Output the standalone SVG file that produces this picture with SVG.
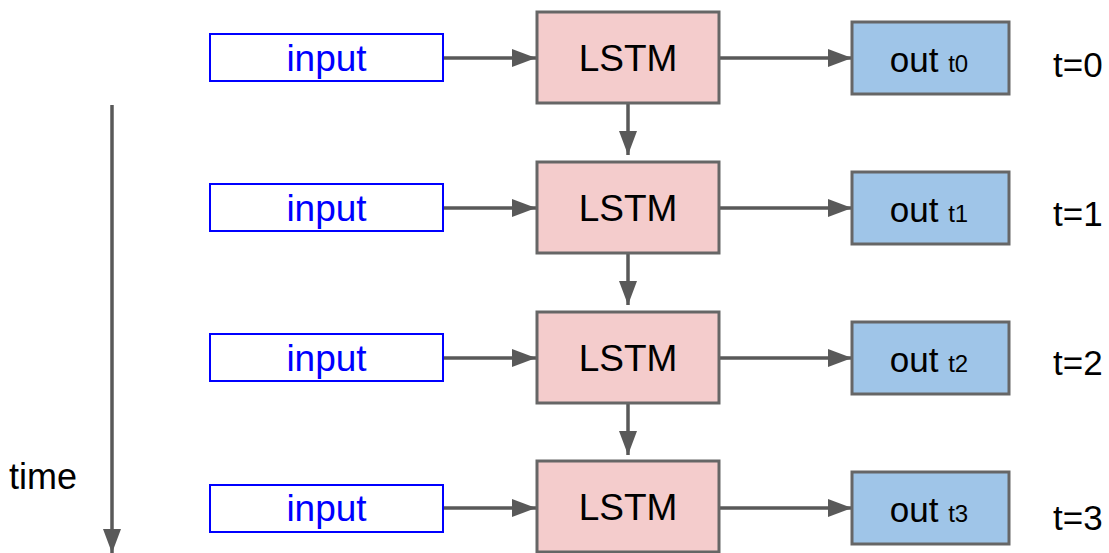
<svg xmlns="http://www.w3.org/2000/svg" width="1109" height="553" viewBox="0 0 1109 553">
<style>
.inp{fill:#fff;stroke:#0000ff;stroke-width:2}
.lstm{fill:#f4cccc;stroke:#666;stroke-width:3}
.out{fill:#9fc5e8;stroke:#666;stroke-width:3}
.t{font-family:"Liberation Sans",Arial,sans-serif;font-size:37px;text-anchor:middle}
.o{font-family:"Liberation Sans",Arial,sans-serif;font-size:35px;text-anchor:middle;fill:#000}
.blue{fill:#0000ff}
.blk{fill:#000}
.sub{font-size:24px}
.lbl{font-family:"Liberation Sans",Arial,sans-serif;font-size:35px;fill:#000}
.c{stroke:#595959;stroke-width:3.5;fill:none;marker-end:url(#ah)}
</style>
<defs>
<marker id="ah" viewBox="0 0 24 18" refX="24" refY="9" markerWidth="24" markerHeight="18" markerUnits="userSpaceOnUse" orient="auto">
<path d="M0,0 L24,9 L0,18 Z" fill="#595959"/>
</marker>
</defs>
<g id="connectors">
<path class="c" d="M443,58 H536"/>
<path class="c" d="M443,208 H536"/>
<path class="c" d="M443,358 H536"/>
<path class="c" d="M443,508 H536"/>
<path class="c" d="M719,58 H852"/>
<path class="c" d="M719,208 H852"/>
<path class="c" d="M719,358 H852"/>
<path class="c" d="M719,508 H852"/>
<path class="c" d="M628,103 V155"/>
<path class="c" d="M628,253 V305"/>
<path class="c" d="M628,403 V455"/>
<path class="c" d="M112,105 V553"/>
</g>
<g id="input0"><rect class="inp" x="210" y="34" width="233" height="47"/><text class="t blue" x="326.5" y="71">input</text></g>
<g id="input1"><rect class="inp" x="210" y="184" width="233" height="47"/><text class="t blue" x="326.5" y="221">input</text></g>
<g id="input2"><rect class="inp" x="210" y="334" width="233" height="47"/><text class="t blue" x="326.5" y="371">input</text></g>
<g id="input3"><rect class="inp" x="210" y="485" width="233" height="47"/><text class="t blue" x="326.5" y="521">input</text></g>
<g id="lstm0"><rect class="lstm" x="537" y="12" width="182" height="91"/><text class="t blk" x="628" y="71">LSTM</text></g>
<g id="lstm1"><rect class="lstm" x="537" y="162" width="182" height="91"/><text class="t blk" x="628" y="221">LSTM</text></g>
<g id="lstm2"><rect class="lstm" x="537" y="312" width="182" height="91"/><text class="t blk" x="628" y="371">LSTM</text></g>
<g id="lstm3"><rect class="lstm" x="537" y="461" width="182" height="91"/><text class="t blk" x="628" y="520">LSTM</text></g>
<g id="out0"><rect class="out" x="852" y="22" width="157" height="72"/><text class="o" x="929" y="72">out <tspan class="sub">t0</tspan></text></g>
<g id="out1"><rect class="out" x="852" y="172" width="157" height="72"/><text class="o" x="929" y="222">out <tspan class="sub">t1</tspan></text></g>
<g id="out2"><rect class="out" x="852" y="322" width="157" height="72"/><text class="o" x="929" y="372">out <tspan class="sub">t2</tspan></text></g>
<g id="out3"><rect class="out" x="852" y="472" width="157" height="72"/><text class="o" x="929" y="522">out <tspan class="sub">t3</tspan></text></g>
<g id="labels">
<text class="lbl" x="1053" y="77">t=0</text>
<text class="lbl" x="1053" y="226">t=1</text>
<text class="lbl" x="1053" y="375">t=2</text>
<text class="lbl" x="1053" y="530">t=3</text>
<text class="lbl" x="9" y="489" style="font-size:36px">time</text>
</g>
</svg>
